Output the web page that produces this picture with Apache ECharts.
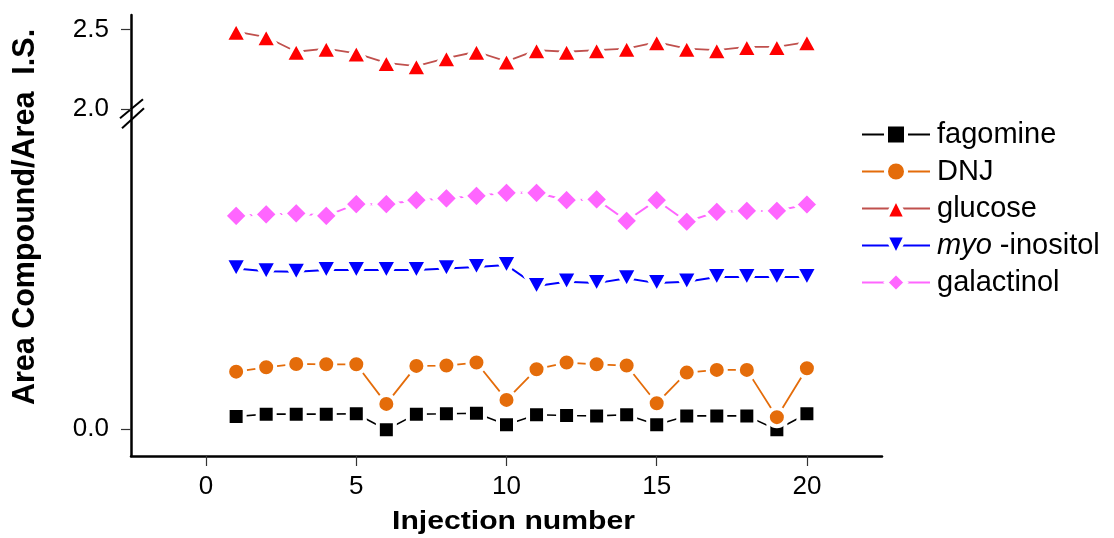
<!DOCTYPE html>
<html><head><meta charset="utf-8">
<script src="https://cdn.jsdelivr.net/npm/echarts@6/dist/echarts.min.js"></script>
<style>html,body{margin:0;padding:0;background:#fff}#c{width:1114px;height:538px}</style>
</head><body><div id="c"></div>
<script>
const injection = [1,2,3,4,5,6,7,8,9,10,11,12,13,14,15,16,17,18,19,20];
const fagomine = [0.077,0.092,0.092,0.092,0.094,-0.006,0.092,0.094,0.098,0.025,0.088,0.083,0.081,0.088,0.025,0.081,0.081,0.081,-0.006,0.094];
const dnj = [0.358,0.385,0.406,0.404,0.404,0.156,0.394,0.396,0.415,0.181,0.373,0.415,0.404,0.396,0.160,0.352,0.369,0.369,0.073,0.379];
const glucose = [2.486,2.452,2.36,2.38,2.35,2.29,2.27,2.32,2.36,2.30,2.37,2.36,2.37,2.38,2.42,2.38,2.37,2.39,2.39,2.42];
const myoInositol = [1.004,0.986,0.983,0.994,0.994,0.994,0.994,1.004,1.013,1.025,0.894,0.921,0.912,0.942,0.912,0.921,0.95,0.95,0.95,0.95];
const galactinol = [1.333,1.342,1.348,1.333,1.406,1.406,1.431,1.442,1.458,1.477,1.477,1.431,1.436,1.302,1.431,1.296,1.358,1.364,1.364,1.404];
const yTicks = [0, 2.0, 2.5];
const xTicks = [0, 5, 10, 15, 20];
const FONT = "'Liberation Sans', Arial, sans-serif";

function mk(name, vals, symbol, size, color, lineColor, lw) {
  return {
    type: 'line', name: name,
    data: injection.map((x, i) => [x, vals[i]]),
    symbol: symbol, symbolSize: size,
    itemStyle: { color: color, borderColor: '#fff', borderWidth: 4 },
    lineStyle: { color: lineColor, width: lw },
    emphasis: { disabled: true },
    animation: false
  };
}

const chart = echarts.init(document.getElementById('c'), null, { renderer: 'canvas' });
chart.setOption({
  backgroundColor: '#fff',
  animation: false,
  grid: { left: 131, right: 232, top: 15, bottom: 82, containLabel: false },
  xAxis: {
    type: 'value', min: -2.5, max: 22.5,
    axisLine: { show: true, onZero: false, lineStyle: { color: '#000', width: 2.5 } },
    axisTick: { show: true, length: 10, customValues: xTicks, lineStyle: { color: '#333', width: 1.2 } },
    axisLabel: { customValues: xTicks, margin: 18, fontFamily: FONT, fontSize: 26, color: '#000' },
    splitLine: { show: false }
  },
  yAxis: {
    type: 'value', min: -0.17, max: 2.59,
    axisLine: { show: true, onZero: false, lineStyle: { color: '#000', width: 2.5 } },
    axisTick: { show: true, length: 10, customValues: yTicks, lineStyle: { color: '#333', width: 1.2 } },
    axisLabel: { customValues: yTicks, margin: 22, fontFamily: FONT, fontSize: 26, color: '#000',
      formatter: v => Number(v).toFixed(1) },
    splitLine: { show: false }
  },
  legend: {
    orient: 'vertical', left: 861, top: 120, padding: 0,
    itemWidth: 68, itemHeight: 25, itemGap: 8,
    data: ['fagomine', 'DNJ', 'glucose', 'myo-inositol', 'galactinol'],
    itemStyle: { borderColor: '#fff', borderWidth: 4 },
    textStyle: { fontFamily: FONT, fontSize: 29, color: '#000', padding: [0, 0, 0, 2],
      rich: { i: { fontFamily: FONT, fontSize: 29, fontStyle: 'italic', color: '#000' } } },
    formatter: n => n === 'myo-inositol' ? '{i|myo} -inositol' : n,
    selectedMode: false
  },
  series: [
    mk('fagomine', fagomine, 'rect', 17, '#000000', '#000000', 1.6),
    mk('DNJ', dnj, 'circle', 18, '#E46C0A', '#E46C0A', 1.8),
    mk('glucose', glucose, 'triangle', [22, 20], '#FF0000', '#C0504D', 1.8),
    mk('myo-inositol', myoInositol, 'path://M0,0 L10,0 L5,10 Z', [22, 20], '#0000FF', '#0000FF', 2),
    mk('galactinol', galactinol, 'diamond', 24, '#FF66FF', '#FF66FF', 2)
  ]
});

// titles and axis break marks on the y axis near 2.0
const xa = chart.convertToPixel({ xAxisIndex: 0 }, -2.5);
const yb = chart.convertToPixel({ yAxisIndex: 0 }, 2.0);
const xMid = (chart.convertToPixel({ xAxisIndex: 0 }, -2.5) + chart.convertToPixel({ xAxisIndex: 0 }, 22.5)) / 2;
chart.setOption({
  graphic: [
    { type: 'text', x: 26, y: 217, rotation: Math.PI / 2,
      style: { text: 'Area Compound/Area  I.S.', fontFamily: FONT, fontSize: 30.5, fontWeight: 'bold',
        fill: '#000', textAlign: 'center', textVerticalAlign: 'middle' } },
    { type: 'text', x: xMid + 7, y: 522, scaleX: 1.16,
      style: { text: 'Injection number', fontFamily: FONT, fontSize: 26, fontWeight: 'bold',
        fill: '#000', textAlign: 'center', textVerticalAlign: 'middle' } },
    { type: 'line', shape: { x1: xa - 11, y1: yb + 9, x2: xa + 12, y2: yb - 10 },
      style: { stroke: '#000', lineWidth: 2 } },
    { type: 'line', shape: { x1: xa - 9, y1: yb + 19, x2: xa + 13, y2: yb - 1 },
      style: { stroke: '#000', lineWidth: 2 } }
  ]
});
</script></body></html>
